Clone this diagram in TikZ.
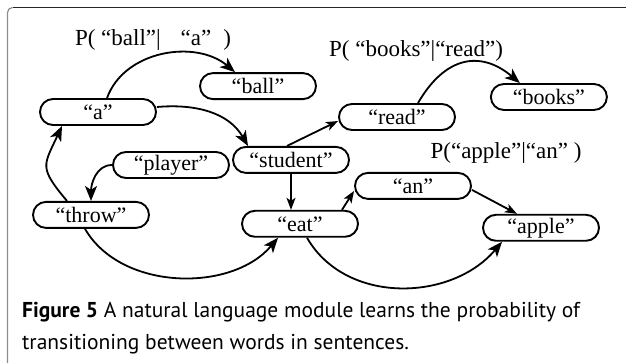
\documentclass[tikz,border=0pt]{standalone}
\usepackage{fontspec}
\setmainfont{Liberation Serif}
\newfontfamily\capfont{PT Sans}
\usetikzlibrary{positioning}
\usetikzlibrary{arrows.meta}
\colorlet{Frame}{black!45}
\tikzset{
  word/.style={draw, line width=1.9pt, rounded corners=13pt, minimum width=116pt,
    minimum height=26pt, inner sep=0pt, font=\fontsize{22}{22}\selectfont},
  prob/.style={inner sep=0pt, font=\fontsize{23}{24}\selectfont},
  arr/.style={-{Stealth[length=15pt,width=12pt,inset=4pt]}, line width=1.8pt},
  arrs/.style={-{Stealth[length=12pt,width=9pt,inset=3pt]}, line width=1.8pt},
}

\begin{document}
\begin{tikzpicture}[x=1pt, y=1pt, node distance=0pt]
        \useasboundingbox (0,0) rectangle (626,-363);
        % frame
        \draw[Frame, line width=1.2pt] (7.5,-363) -- (7.5,-12.5) arc[start angle=180, end angle=90, radius=5];
        \draw[black!85, line width=1.2pt] (12.5,-7.5) -- (626,-7.5);

        % word nodes
        \node[word] (a) at (98,-112) {“a”};
        \node[word, above=of a, xshift=160pt, yshift=-2pt] (ball) {“ball”};
        \node[word, below=of a, xshift=-7pt, yshift=-75pt] (throw) {“throw”};
        \node[word, above=of throw, xshift=80pt, yshift=22pt] (player) {“player”};
        \node[word, below=of a, xshift=193pt, yshift=-20pt] (student) {“student”};
        \node[word, below=of student, xshift=9pt, yshift=-36pt] (eat) {“eat”};
        \node[word, above=of student, xshift=106pt, yshift=15pt] (read) {“read”};
        \node[word, right=of read, xshift=34pt, yshift=20pt] (books) {“books”};
        \node[word, above=of eat, xshift=113pt, yshift=10pt] (an) {“an”};
        \node[word, below=of an, xshift=128pt, yshift=-14pt] (apple) {“apple”};

        % probabilities
        \node[prob] (pball) at (153,-40) {P( “ball”|\hspace{20pt}“a”\hspace{12pt})};
        \node[prob] (pbooks) at (416,-51) {P( “books”|“read”)};
        \node[prob] (papple) at (506,-153) {P(“apple”|“an” )};

        % edges
        \draw[arr] ([xshift=9pt]a.north) to[out=70, in=140] ([xshift=-23pt]ball.north);
        \draw[arr] ([yshift=5pt]a.east) to[out=5, in=120] ([xshift=-43pt]student.north);
        \draw[arr] (player.west) to[out=180, in=90] (throw.north);
        \draw[arr] ([xshift=-24pt]throw.north) to[out=130, in=-115, looseness=1.5] ([xshift=-36pt]a.south);
        \draw[arrs] ([xshift=-4pt]student.north) -- ([yshift=-4pt]read.west);
        \draw[arr] ([xshift=21pt]read.north) to[out=60, in=140, looseness=1.3] ([xshift=-29pt]books.north);
        \draw[arrs] (student.south) -- (student.south |- eat.north);
        \draw[arrs] ([xshift=42pt]eat.north) -- ([yshift=-5pt]an.west);
        \draw[arrs] ([yshift=-4pt]an.east) -- ([xshift=-24pt]apple.north);
        \draw[arr] ([xshift=-6pt]throw.south) to[out=-60, in=-130, looseness=0.95] ([xshift=-22pt]eat.south);
        \draw[arr] ([xshift=7pt]eat.south) to[out=-60, in=-130, looseness=1.02] ([xshift=-39pt]apple.south);

        % caption
        \node[anchor=base west, inner sep=0pt, font=\capfont\fontsize{21.5}{24}\selectfont] (cap1) at (22,-317)
          {\textbf{Figure 5} A natural language module learns the probability of};
        \node[anchor=base west, inner sep=0pt, font=\capfont\fontsize{21.5}{24}\selectfont] (cap2) at (22,-349)
          {transitioning between words in sentences.};
\end{tikzpicture}
\end{document}
